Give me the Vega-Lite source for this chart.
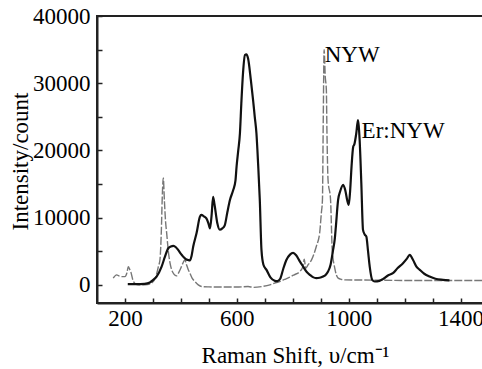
{
  "$schema": "https://vega.github.io/schema/vega-lite/v6.json",
  "width": 386,
  "height": 287,
  "autosize": {"type": "none"},
  "padding": {"left": 97, "top": 16, "right": 0, "bottom": 66},
  "background": "white",
  "config": {
    "view": {"stroke": "#222", "strokeWidth": 2},
    "font": "Liberation Serif",
    "axis": {
      "grid": false,
      "domainColor": "#222",
      "domainWidth": 2,
      "tickColor": "#222",
      "tickWidth": 1.5,
      "tickSize": -5,
      "labelFont": "Liberation Serif",
      "labelFontSize": 23,
      "labelColor": "#000",
      "titleFont": "Liberation Serif",
      "titleFontSize": 23,
      "titleFontWeight": "normal",
      "titleColor": "#000"
    }
  },
  "datasets": {
    "spectra": [
      {"series": "NYW", "shift": 158, "intensity": 1000},
      {"series": "NYW", "shift": 170, "intensity": 1490},
      {"series": "NYW", "shift": 180, "intensity": 1300},
      {"series": "NYW", "shift": 188, "intensity": 1230},
      {"series": "NYW", "shift": 200, "intensity": 1230},
      {"series": "NYW", "shift": 207, "intensity": 1800},
      {"series": "NYW", "shift": 212, "intensity": 2700},
      {"series": "NYW", "shift": 217, "intensity": 2300},
      {"series": "NYW", "shift": 221, "intensity": 1900},
      {"series": "NYW", "shift": 230, "intensity": 500},
      {"series": "NYW", "shift": 242, "intensity": 50},
      {"series": "NYW", "shift": 260, "intensity": 0},
      {"series": "NYW", "shift": 280, "intensity": 50},
      {"series": "NYW", "shift": 295, "intensity": 250},
      {"series": "NYW", "shift": 310, "intensity": 1200},
      {"series": "NYW", "shift": 320, "intensity": 2800},
      {"series": "NYW", "shift": 325, "intensity": 3700},
      {"series": "NYW", "shift": 330, "intensity": 8000},
      {"series": "NYW", "shift": 333, "intensity": 12640},
      {"series": "NYW", "shift": 337, "intensity": 15900},
      {"series": "NYW", "shift": 341, "intensity": 12500},
      {"series": "NYW", "shift": 345, "intensity": 9500},
      {"series": "NYW", "shift": 349, "intensity": 7730},
      {"series": "NYW", "shift": 355, "intensity": 5000},
      {"series": "NYW", "shift": 361, "intensity": 3270},
      {"series": "NYW", "shift": 367, "intensity": 2230},
      {"series": "NYW", "shift": 375, "intensity": 1600},
      {"series": "NYW", "shift": 384, "intensity": 1340},
      {"series": "NYW", "shift": 393, "intensity": 1900},
      {"series": "NYW", "shift": 402, "intensity": 2730},
      {"series": "NYW", "shift": 409, "intensity": 3400},
      {"series": "NYW", "shift": 414, "intensity": 3720},
      {"series": "NYW", "shift": 420, "intensity": 3000},
      {"series": "NYW", "shift": 426, "intensity": 2300},
      {"series": "NYW", "shift": 432, "intensity": 1740},
      {"series": "NYW", "shift": 440, "intensity": 1000},
      {"series": "NYW", "shift": 450, "intensity": 500},
      {"series": "NYW", "shift": 462, "intensity": 0},
      {"series": "NYW", "shift": 474, "intensity": -250},
      {"series": "NYW", "shift": 500, "intensity": -300},
      {"series": "NYW", "shift": 550, "intensity": -330},
      {"series": "NYW", "shift": 600, "intensity": -330},
      {"series": "NYW", "shift": 640, "intensity": -250},
      {"series": "NYW", "shift": 660, "intensity": -380},
      {"series": "NYW", "shift": 690, "intensity": -250},
      {"series": "NYW", "shift": 718, "intensity": 0},
      {"series": "NYW", "shift": 735, "intensity": 250},
      {"series": "NYW", "shift": 753, "intensity": 500},
      {"series": "NYW", "shift": 770, "intensity": 800},
      {"series": "NYW", "shift": 789, "intensity": 1140},
      {"series": "NYW", "shift": 805, "intensity": 1500},
      {"series": "NYW", "shift": 825, "intensity": 1980},
      {"series": "NYW", "shift": 835, "intensity": 2600},
      {"series": "NYW", "shift": 841, "intensity": 3820},
      {"series": "NYW", "shift": 846, "intensity": 2480},
      {"series": "NYW", "shift": 855, "intensity": 3000},
      {"series": "NYW", "shift": 867, "intensity": 3720},
      {"series": "NYW", "shift": 884, "intensity": 5700},
      {"series": "NYW", "shift": 896, "intensity": 7700},
      {"series": "NYW", "shift": 902, "intensity": 10660},
      {"series": "NYW", "shift": 906, "intensity": 12640},
      {"series": "NYW", "shift": 909, "intensity": 25000},
      {"series": "NYW", "shift": 912, "intensity": 35000},
      {"series": "NYW", "shift": 916, "intensity": 31000},
      {"series": "NYW", "shift": 920, "intensity": 29000},
      {"series": "NYW", "shift": 922, "intensity": 23000},
      {"series": "NYW", "shift": 926, "intensity": 15600},
      {"series": "NYW", "shift": 935, "intensity": 12640},
      {"series": "NYW", "shift": 941, "intensity": 5200},
      {"series": "NYW", "shift": 950, "intensity": 2480},
      {"series": "NYW", "shift": 962, "intensity": 1000},
      {"series": "NYW", "shift": 975, "intensity": 800},
      {"series": "NYW", "shift": 986, "intensity": 740},
      {"series": "NYW", "shift": 1100, "intensity": 700},
      {"series": "NYW", "shift": 1200, "intensity": 650},
      {"series": "NYW", "shift": 1300, "intensity": 650},
      {"series": "NYW", "shift": 1400, "intensity": 650},
      {"series": "NYW", "shift": 1480, "intensity": 650},
      {"series": "Er:NYW", "shift": 210, "intensity": 100},
      {"series": "Er:NYW", "shift": 240, "intensity": 100},
      {"series": "Er:NYW", "shift": 270, "intensity": 150},
      {"series": "Er:NYW", "shift": 289, "intensity": 340},
      {"series": "Er:NYW", "shift": 300, "intensity": 700},
      {"series": "Er:NYW", "shift": 313, "intensity": 1230},
      {"series": "Er:NYW", "shift": 331, "intensity": 2720},
      {"series": "Er:NYW", "shift": 343, "intensity": 4200},
      {"series": "Er:NYW", "shift": 355, "intensity": 5450},
      {"series": "Er:NYW", "shift": 364, "intensity": 5700},
      {"series": "Er:NYW", "shift": 373, "intensity": 5800},
      {"series": "Er:NYW", "shift": 382, "intensity": 5600},
      {"series": "Er:NYW", "shift": 390, "intensity": 5200},
      {"series": "Er:NYW", "shift": 400, "intensity": 4600},
      {"series": "Er:NYW", "shift": 408, "intensity": 4200},
      {"series": "Er:NYW", "shift": 418, "intensity": 3800},
      {"series": "Er:NYW", "shift": 426, "intensity": 3700},
      {"series": "Er:NYW", "shift": 432, "intensity": 3650},
      {"series": "Er:NYW", "shift": 438, "intensity": 4300},
      {"series": "Er:NYW", "shift": 444, "intensity": 5700},
      {"series": "Er:NYW", "shift": 456, "intensity": 7700},
      {"series": "Er:NYW", "shift": 468, "intensity": 10150},
      {"series": "Er:NYW", "shift": 473, "intensity": 10400},
      {"series": "Er:NYW", "shift": 482, "intensity": 10200},
      {"series": "Er:NYW", "shift": 491, "intensity": 9900},
      {"series": "Er:NYW", "shift": 498, "intensity": 9200},
      {"series": "Er:NYW", "shift": 504, "intensity": 8400},
      {"series": "Er:NYW", "shift": 510, "intensity": 10500},
      {"series": "Er:NYW", "shift": 515, "intensity": 13100},
      {"series": "Er:NYW", "shift": 520, "intensity": 12000},
      {"series": "Er:NYW", "shift": 530, "intensity": 9200},
      {"series": "Er:NYW", "shift": 539, "intensity": 8200},
      {"series": "Er:NYW", "shift": 548, "intensity": 8400},
      {"series": "Er:NYW", "shift": 557, "intensity": 8900},
      {"series": "Er:NYW", "shift": 566, "intensity": 10800},
      {"series": "Er:NYW", "shift": 575, "intensity": 12600},
      {"series": "Er:NYW", "shift": 587, "intensity": 14100},
      {"series": "Er:NYW", "shift": 595, "intensity": 15500},
      {"series": "Er:NYW", "shift": 599, "intensity": 17600},
      {"series": "Er:NYW", "shift": 605, "intensity": 20000},
      {"series": "Er:NYW", "shift": 611, "intensity": 22560},
      {"series": "Er:NYW", "shift": 616, "intensity": 27000},
      {"series": "Er:NYW", "shift": 622, "intensity": 31500},
      {"series": "Er:NYW", "shift": 629, "intensity": 34200},
      {"series": "Er:NYW", "shift": 634, "intensity": 34300},
      {"series": "Er:NYW", "shift": 640, "intensity": 33700},
      {"series": "Er:NYW", "shift": 650, "intensity": 30500},
      {"series": "Er:NYW", "shift": 658, "intensity": 27500},
      {"series": "Er:NYW", "shift": 664, "intensity": 25000},
      {"series": "Er:NYW", "shift": 670, "intensity": 22560},
      {"series": "Er:NYW", "shift": 676, "intensity": 18000},
      {"series": "Er:NYW", "shift": 682, "intensity": 12640},
      {"series": "Er:NYW", "shift": 688, "intensity": 5200},
      {"series": "Er:NYW", "shift": 695, "intensity": 3000},
      {"series": "Er:NYW", "shift": 706, "intensity": 2230},
      {"series": "Er:NYW", "shift": 720, "intensity": 1100},
      {"series": "Er:NYW", "shift": 736, "intensity": 600},
      {"series": "Er:NYW", "shift": 745, "intensity": 550},
      {"series": "Er:NYW", "shift": 755, "intensity": 900},
      {"series": "Er:NYW", "shift": 766, "intensity": 2400},
      {"series": "Er:NYW", "shift": 777, "intensity": 3700},
      {"series": "Er:NYW", "shift": 790, "intensity": 4500},
      {"series": "Er:NYW", "shift": 801, "intensity": 4750},
      {"series": "Er:NYW", "shift": 812, "intensity": 4400},
      {"series": "Er:NYW", "shift": 825, "intensity": 3500},
      {"series": "Er:NYW", "shift": 837, "intensity": 2720},
      {"series": "Er:NYW", "shift": 850, "intensity": 1900},
      {"series": "Er:NYW", "shift": 861, "intensity": 1490},
      {"series": "Er:NYW", "shift": 872, "intensity": 1150},
      {"series": "Er:NYW", "shift": 884, "intensity": 1000},
      {"series": "Er:NYW", "shift": 896, "intensity": 1050},
      {"series": "Er:NYW", "shift": 908, "intensity": 1230},
      {"series": "Er:NYW", "shift": 918, "intensity": 1500},
      {"series": "Er:NYW", "shift": 926, "intensity": 1980},
      {"series": "Er:NYW", "shift": 935, "intensity": 3000},
      {"series": "Er:NYW", "shift": 944, "intensity": 5200},
      {"series": "Er:NYW", "shift": 950, "intensity": 6800},
      {"series": "Er:NYW", "shift": 954, "intensity": 8670},
      {"series": "Er:NYW", "shift": 962, "intensity": 12640},
      {"series": "Er:NYW", "shift": 970, "intensity": 14000},
      {"series": "Er:NYW", "shift": 980, "intensity": 14870},
      {"series": "Er:NYW", "shift": 988, "intensity": 14000},
      {"series": "Er:NYW", "shift": 995, "intensity": 12500},
      {"series": "Er:NYW", "shift": 1000, "intensity": 11900},
      {"series": "Er:NYW", "shift": 1005, "intensity": 14000},
      {"series": "Er:NYW", "shift": 1010, "intensity": 17600},
      {"series": "Er:NYW", "shift": 1016, "intensity": 20560},
      {"series": "Er:NYW", "shift": 1020, "intensity": 20900},
      {"series": "Er:NYW", "shift": 1027, "intensity": 22560},
      {"series": "Er:NYW", "shift": 1033, "intensity": 24530},
      {"series": "Er:NYW", "shift": 1036, "intensity": 23500},
      {"series": "Er:NYW", "shift": 1039, "intensity": 21560},
      {"series": "Er:NYW", "shift": 1045, "intensity": 15120},
      {"series": "Er:NYW", "shift": 1051, "intensity": 8180},
      {"series": "Er:NYW", "shift": 1057, "intensity": 7500},
      {"series": "Er:NYW", "shift": 1063, "intensity": 7180},
      {"series": "Er:NYW", "shift": 1069, "intensity": 5000},
      {"series": "Er:NYW", "shift": 1075, "intensity": 2720},
      {"series": "Er:NYW", "shift": 1084, "intensity": 740},
      {"series": "Er:NYW", "shift": 1093, "intensity": 500},
      {"series": "Er:NYW", "shift": 1110, "intensity": 600},
      {"series": "Er:NYW", "shift": 1122, "intensity": 850},
      {"series": "Er:NYW", "shift": 1140, "intensity": 1400},
      {"series": "Er:NYW", "shift": 1158, "intensity": 1740},
      {"series": "Er:NYW", "shift": 1175, "intensity": 2500},
      {"series": "Er:NYW", "shift": 1194, "intensity": 3220},
      {"series": "Er:NYW", "shift": 1208, "intensity": 3900},
      {"series": "Er:NYW", "shift": 1218, "intensity": 4460},
      {"series": "Er:NYW", "shift": 1230, "intensity": 3700},
      {"series": "Er:NYW", "shift": 1242, "intensity": 2720},
      {"series": "Er:NYW", "shift": 1254, "intensity": 2230},
      {"series": "Er:NYW", "shift": 1270, "intensity": 1650},
      {"series": "Er:NYW", "shift": 1289, "intensity": 1230},
      {"series": "Er:NYW", "shift": 1310, "intensity": 900},
      {"series": "Er:NYW", "shift": 1337, "intensity": 740},
      {"series": "Er:NYW", "shift": 1360, "intensity": 660}
    ],
    "labels": [
      {"label": "NYW", "shift": 914, "intensity": 33140},
      {"label": "Er:NYW", "shift": 1046, "intensity": 21860}
    ]
  },
  "encoding": {
    "x": {
      "field": "shift", "type": "quantitative",
      "scale": {"domain": [100, 1480], "nice": false, "zero": false},
      "axis": {
        "title": "Raman Shift, υ/cm⁻¹",
        "values": [200, 300, 400, 500, 600, 700, 800, 900, 1000, 1100, 1200, 1300, 1400],
        "labelExpr": "datum.value % 400 == 200 ? datum.label : ''",
        "format": "d",
        "labelFont": "Liberation Serif",
        "labelFontSize": 23,
        "titleFont": "Liberation Serif",
        "titleFontSize": 23,
        "titleFontWeight": "normal",
        "labelPadding": 9,
        "labelFlush": false,
        "titleX": 198,
        "titleY": 59,
        "titleBaseline": "alphabetic",
        "titleAlign": "center"
      }
    },
    "y": {
      "field": "intensity", "type": "quantitative",
      "scale": {"domain": [-2700, 40000], "nice": false, "zero": false},
      "axis": {
        "title": "Intensity/count",
        "values": [0, 5000, 10000, 15000, 20000, 25000, 30000, 35000, 40000],
        "labelExpr": "datum.value % 10000 == 0 ? datum.label : ''",
        "format": "d",
        "labelFont": "Liberation Serif",
        "labelFontSize": 23,
        "titleFont": "Liberation Serif",
        "titleFontSize": 23,
        "titleFontWeight": "normal",
        "labelPadding": 12,
        "labelFlush": false,
        "titleX": -70,
        "titleY": 145,
        "titleBaseline": "alphabetic",
        "titleAlign": "center",
        "titleAngle": -90
      }
    }
  },
  "layer": [
    {
      "data": {"name": "spectra"},
      "transform": [{"filter": "datum.series == 'NYW'"}],
      "mark": {"type": "line", "interpolate": "monotone", "color": "#777", "strokeWidth": 1.4, "strokeDash": [8, 2], "clip": true}
    },
    {
      "data": {"name": "spectra"},
      "transform": [{"filter": "datum.series == 'Er:NYW'"}],
      "mark": {"type": "line", "interpolate": "monotone", "color": "#111", "strokeWidth": 2.2, "clip": true}
    },
    {
      "data": {"name": "labels"},
      "mark": {"type": "text", "align": "left", "baseline": "alphabetic", "font": "Liberation Serif", "fontSize": 23, "color": "#000"},
      "encoding": {
        "text": {"field": "label"}
      }
    }
  ]
}
